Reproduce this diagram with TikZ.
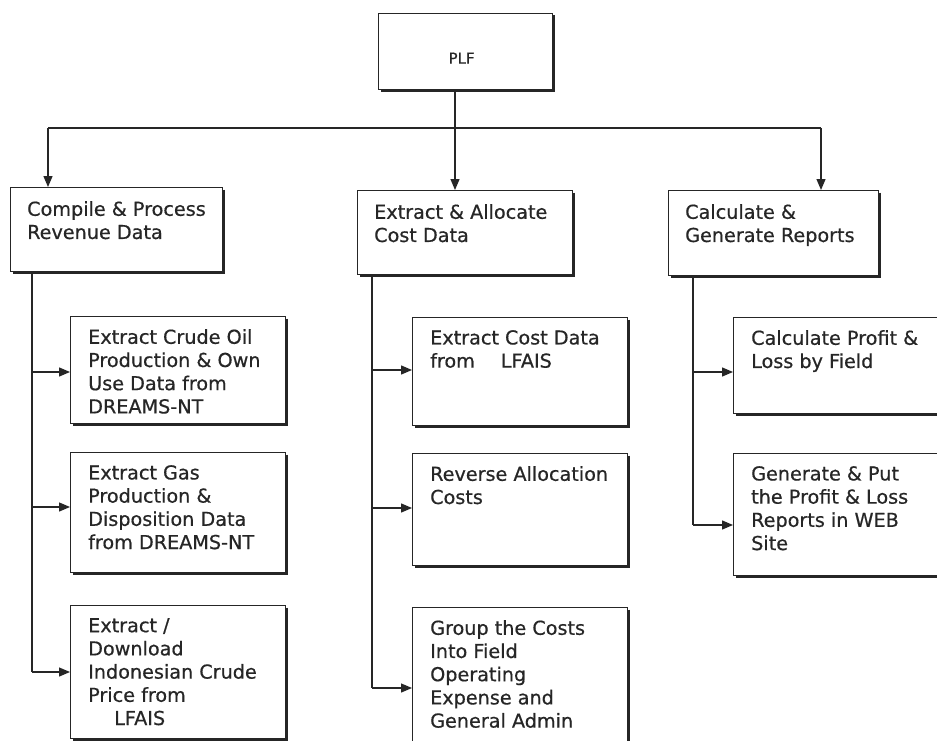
\documentclass[tikz,border=0pt]{standalone}
\usepackage{fontspec}
\setmainfont{DejaVu Sans}
\newfontfamily\lblfont{DejaVu Sans}[FakeBold=0.6]
\usetikzlibrary{arrows.meta}
\definecolor{ink}{HTML}{262626}
\begin{document}
\begin{tikzpicture}[x=1pt,y=-1pt,
  box/.style={draw=ink, line width=1.2pt, rectangle, anchor=north west, inner sep=0pt},
  boxshade/.style={draw=ink, line width=2.6pt},
  txt/.style={anchor=north west, inner sep=0pt, align=left, text=ink,
              font=\lblfont\fontsize{19.2}{23.2}\selectfont},
  link/.style={draw=ink, line width=1.3pt},
  arr/.style={link, -{Triangle[length=11pt,width=9pt]}}
]
\useasboundingbox (0,0) rectangle (937,741);
\clip (0,0) rectangle (937,741);

% top node
\node[box, minimum width=174pt, minimum height=76pt] (plf) at (378,13) {};
\node[txt, anchor=center, font=\lblfont\fontsize{15}{18}\selectfont] (plfT)
  at ([xshift=-4pt,yshift=-6.5pt]plf.center) {PLF};

% second level
\node[box, minimum width=212pt, minimum height=84pt] (a) at (10,187) {};
\node[box, minimum width=215pt, minimum height=84pt] (b) at (357,190) {};
\node[box, minimum width=210pt, minimum height=85pt] (c) at (668,190) {};

% third level, revenue column
\node[box, minimum width=215pt, minimum height=107pt] (a1) at (70,316) {};
\node[box, minimum width=215pt, minimum height=120pt] (a2) at (70,452) {};
\node[box, minimum width=215pt, minimum height=133pt] (a3) at (70,605) {};
% third level, cost column
\node[box, minimum width=215pt, minimum height=108pt] (b1) at (412,317) {};
\node[box, minimum width=215pt, minimum height=112pt] (b2) at (412,453) {};
\node[box, minimum width=215pt, minimum height=165pt] (b3) at (412,607) {};
% third level, report column
\node[box, minimum width=215pt, minimum height=96pt] (c1) at (733,317) {};
\node[box, minimum width=215pt, minimum height=122pt] (c2) at (733,453) {};

% heavier right and bottom edges
\foreach \n in {plf,a,b,c,a1,a2,a3,b1,b2,b3,c1,c2}
  \draw[boxshade] ([xshift=0.9pt,yshift=-2.5pt]\n.north east)
     -- ([xshift=0.9pt,yshift=-0.9pt]\n.south east)
     -- ([xshift=2.5pt,yshift=-0.9pt]\n.south west);

% labels
\node[txt] (aT) at ([xshift=17pt,yshift=-14pt]a.north west) {Compile \& Process\\Revenue Data};
\node[txt] (bT) at ([xshift=17pt,yshift=-14pt]b.north west) {Extract \& Allocate\\Cost Data};
\node[txt] (cT) at ([xshift=17pt,yshift=-14pt]c.north west) {Calculate \&\\Generate Reports};

\node[txt] (a1T) at ([xshift=18pt,yshift=-13pt]a1.north west) {Extract Crude Oil\\Production \& Own\\Use Data from\\DREAMS-NT};
\node[txt] (a2T) at ([xshift=18pt,yshift=-13pt]a2.north west) {Extract Gas\\Production \&\\Disposition Data\\from DREAMS-NT};
\node[txt] (a3T) at ([xshift=18pt,yshift=-13pt]a3.north west) {Extract /\\Download\\Indonesian Crude\\Price from\\\hspace*{26pt}LFAIS};

\node[txt] (b1T) at ([xshift=18pt,yshift=-13pt]b1.north west) {Extract Cost Data\\from\hspace*{26pt}LFAIS};
\node[txt] (b2T) at ([xshift=18pt,yshift=-13pt]b2.north west) {Reverse Allocation\\Costs};
\node[txt] (b3T) at ([xshift=18pt,yshift=-13pt]b3.north west) {Group the Costs\\Into Field\\Operating\\Expense and\\General Admin};

\node[txt] (c1T) at ([xshift=18pt,yshift=-13pt]c1.north west) {Calculate Profit \&\\Loss by Field};
\node[txt] (c2T) at ([xshift=18pt,yshift=-13pt]c2.north west) {Generate \& Put\\the Profit \& Loss\\Reports in WEB\\Site};

% distribution bus from the top node
\coordinate (stem) at (455,128);
\coordinate (busL) at (48,128);
\coordinate (busR) at (821,128);
\draw[link] (stem |- plf.south) -- (stem);
\draw[link] (busL) -- (busR);
\draw[arr] (busL) -- (busL |- a.north);
\draw[arr] (stem) -- (stem |- b.north);
\draw[arr] (busR) -- (busR |- c.north);

% column trunks
\coordinate (ta) at (32,0);
\coordinate (tb) at (372,0);
\coordinate (tc) at (693,0);
\coordinate (ya1) at (0,372);
\coordinate (ya2) at (0,507);
\coordinate (ya3) at (0,672);
\coordinate (yb1) at (0,370);
\coordinate (yb2) at (0,508);
\coordinate (yb3) at (0,688);
\coordinate (yc1) at (0,372);
\coordinate (yc2) at (0,525);

\draw[link] (a.south -| ta) -- (ta |- ya3);
\draw[arr] (ta |- ya1) -- (a1.west |- ya1);
\draw[arr] (ta |- ya2) -- (a2.west |- ya2);
\draw[arr] (ta |- ya3) -- (a3.west |- ya3);

\draw[link] (b.south -| tb) -- (tb |- yb3);
\draw[arr] (tb |- yb1) -- (b1.west |- yb1);
\draw[arr] (tb |- yb2) -- (b2.west |- yb2);
\draw[arr] (tb |- yb3) -- (b3.west |- yb3);

\draw[link] (c.south -| tc) -- (tc |- yc2);
\draw[arr] (tc |- yc1) -- (c1.west |- yc1);
\draw[arr] (tc |- yc2) -- (c2.west |- yc2);
\end{tikzpicture}
\end{document}
